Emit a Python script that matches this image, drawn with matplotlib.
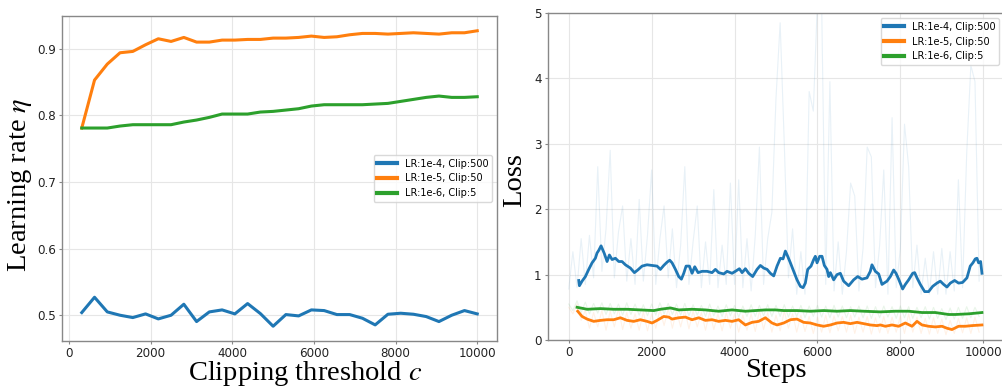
import numpy as np
import matplotlib
matplotlib.use("Agg")
import matplotlib.pyplot as plt

plt.rcParams['mathtext.fontset'] = 'stix'

# ---------------- data: left panel ----------------
clip_thresholds = np.linspace(10000 / 32, 10000, 32)
lr_labels = ["LR:1e-4, Clip:500", "LR:1e-5, Clip:50", "LR:1e-6, Clip:5"]
lr_blue = [0.504, 0.527, 0.505, 0.500, 0.4965, 0.502, 0.4945, 0.500, 0.5165, 0.4905,
           0.505, 0.508, 0.502, 0.5175, 0.5025, 0.4835, 0.501, 0.499, 0.508, 0.507,
           0.501, 0.501, 0.4955, 0.4855, 0.5015, 0.503, 0.5015, 0.498, 0.4905, 0.500,
           0.507, 0.502]
lr_orange = [0.781, 0.853, 0.877, 0.894, 0.896, 0.906, 0.915, 0.911, 0.917, 0.910,
             0.910, 0.913, 0.913, 0.914, 0.914, 0.916, 0.916, 0.917, 0.919, 0.917,
             0.918, 0.921, 0.923, 0.923, 0.922, 0.923, 0.924, 0.923, 0.922, 0.924,
             0.924, 0.927]
lr_green = [0.781, 0.781, 0.781, 0.784, 0.786, 0.786, 0.786, 0.786, 0.790, 0.793,
            0.797, 0.802, 0.802, 0.802, 0.805, 0.806, 0.808, 0.810, 0.814, 0.816,
            0.816, 0.816, 0.816, 0.817, 0.818, 0.821, 0.824, 0.827, 0.829, 0.827,
            0.827, 0.828]

# ---------------- data: right panel ----------------
raw_step_interval = 100
raw_blue = [0.78, 1.35, 0.80, 1.55, 0.85, 1.60, 0.95, 2.65, 1.05, 1.70,
            2.90, 0.95, 1.65, 2.05, 0.90, 1.55, 0.85, 2.15, 0.90, 1.60,
            2.60, 0.85, 1.55, 2.05, 0.95, 1.70, 0.80, 1.45, 2.65, 0.85,
            1.50, 2.05, 0.80, 1.50, 0.85, 2.30, 0.80, 1.45, 0.85, 2.40,
            0.85, 2.45, 0.80, 1.55, 0.75, 1.60, 2.95, 0.85, 1.55, 1.95,
            3.70, 4.85, 3.00, 0.95, 1.70, 0.70, 1.35, 0.70, 3.80, 3.50,
            5.20, 5.20, 0.85, 3.95, 0.75, 1.50, 0.70, 1.35, 2.40, 2.20,
            0.75, 1.40, 2.95, 2.80, 0.80, 1.45, 2.60, 0.70, 3.40, 0.80,
            1.40, 3.30, 2.65, 0.80, 1.45, 0.70, 1.25, 0.70, 1.35, 0.70,
            1.40, 0.70, 1.35, 0.75, 2.45, 0.80, 2.85, 4.20, 3.95, 0.90]
raw_orange = [0.50, 0.40, 0.55, 0.30, 0.45, 0.18, 0.42, 0.20, 0.45, 0.15,
              0.44, 0.20, 0.48, 0.16, 0.42, 0.18, 0.40, 0.15, 0.43, 0.14,
              0.40, 0.18, 0.47, 0.22, 0.48, 0.18, 0.45, 0.20, 0.46, 0.17,
              0.44, 0.20, 0.42, 0.15, 0.43, 0.16, 0.40, 0.14, 0.42, 0.18,
              0.40, 0.12, 0.38, 0.15, 0.40, 0.13, 0.45, 0.16, 0.42, 0.12,
              0.38, 0.14, 0.44, 0.18, 0.40, 0.12, 0.38, 0.13, 0.36, 0.10,
              0.35, 0.12, 0.38, 0.11, 0.37, 0.14, 0.36, 0.12, 0.38, 0.10,
              0.35, 0.12, 0.36, 0.09, 0.34, 0.11, 0.36, 0.10, 0.35, 0.12,
              0.37, 0.10, 0.40, 0.12, 0.35, 0.10, 0.33, 0.09, 0.34, 0.10,
              0.32, 0.08, 0.30, 0.10, 0.33, 0.11, 0.34, 0.10, 0.35, 0.12]
raw_green = [0.55, 0.45, 0.60, 0.42, 0.58, 0.40, 0.56, 0.41, 0.57, 0.39,
             0.56, 0.40, 0.55, 0.38, 0.57, 0.39, 0.55, 0.38, 0.54, 0.37,
             0.55, 0.38, 0.57, 0.40, 0.56, 0.39, 0.55, 0.38, 0.56, 0.37,
             0.54, 0.38, 0.53, 0.36, 0.55, 0.37, 0.52, 0.36, 0.54, 0.37,
             0.53, 0.35, 0.52, 0.36, 0.54, 0.36, 0.53, 0.37, 0.54, 0.36,
             0.53, 0.36, 0.54, 0.35, 0.52, 0.36, 0.53, 0.34, 0.52, 0.36,
             0.53, 0.35, 0.52, 0.34, 0.53, 0.35, 0.52, 0.34, 0.51, 0.35,
             0.52, 0.34, 0.52, 0.33, 0.51, 0.34, 0.52, 0.35, 0.51, 0.33,
             0.52, 0.34, 0.51, 0.33, 0.50, 0.34, 0.51, 0.32, 0.50, 0.33,
             0.48, 0.31, 0.49, 0.32, 0.50, 0.33, 0.51, 0.34, 0.50, 0.36]

smooth_blue_steps = [242, 258, 322, 402, 483, 563, 643, 683, 724, 780, 820, 860, 925, 981,
                     1046, 1126, 1206, 1286, 1367, 1487, 1584, 1664, 1769, 1889, 2010,
                     2131, 2211, 2292, 2372, 2436, 2493, 2574, 2654, 2718, 2775, 2831,
                     2911, 2975, 3040, 3120, 3216, 3337, 3457, 3538, 3618, 3739, 3819,
                     3940, 4020, 4117, 4181, 4262, 4342, 4438, 4543, 4623, 4703, 4784,
                     4864, 4945, 5025, 5106, 5170, 5226, 5282, 5347, 5427, 5507, 5588,
                     5652, 5708, 5765, 5845, 5909, 5949, 5990, 6054, 6110, 6166, 6230,
                     6271, 6311, 6391, 6472, 6552, 6632, 6753, 6873, 6970, 7074, 7195,
                     7275, 7315, 7396, 7477, 7557, 7678, 7758, 7838, 7895, 7959, 8055,
                     8120, 8200, 8297, 8345, 8401, 8481, 8586, 8682, 8779, 8883, 8963,
                     9044, 9124, 9205, 9309, 9405, 9501, 9606, 9686, 9750, 9807, 9847,
                     9887, 9936, 9968]
smooth_blue = [0.91, 0.83, 0.90, 0.97, 1.08, 1.18, 1.25, 1.33, 1.37, 1.44, 1.38, 1.32,
               1.20, 1.30, 1.23, 1.25, 1.20, 1.20, 1.15, 1.10, 1.03, 1.07, 1.13, 1.15,
               1.14, 1.13, 1.08, 1.14, 1.19, 1.22, 1.18, 1.08, 0.97, 0.93, 1.02, 1.13,
               1.13, 1.02, 1.12, 1.03, 1.05, 1.05, 1.03, 1.08, 1.03, 1.01, 1.05, 1.02,
               1.05, 1.09, 1.03, 1.09, 1.02, 0.97, 1.08, 1.14, 1.10, 1.08, 1.02, 0.98,
               1.13, 1.25, 1.24, 1.36, 1.28, 1.18, 1.05, 0.92, 0.82, 0.80, 0.87, 1.08,
               1.13, 1.23, 1.28, 1.18, 1.28, 1.28, 1.14, 1.08, 0.97, 1.03, 0.92, 1.00,
               1.02, 0.90, 0.83, 0.92, 0.97, 0.93, 0.95, 1.05, 1.15, 1.05, 1.01, 0.85,
               0.90, 0.97, 1.07, 1.02, 0.93, 0.78, 0.85, 0.92, 1.02, 1.03, 0.95, 0.85,
               0.74, 0.74, 0.82, 0.87, 0.90, 0.85, 0.81, 0.87, 0.91, 0.87, 0.88, 0.95,
               1.13, 1.18, 1.24, 1.25, 1.18, 1.20, 1.02]

smooth_orange_steps = [217, 322, 442, 603, 764, 925, 1085, 1246, 1407, 1568, 1728, 1889,
                       2010, 2131, 2292, 2412, 2493, 2653, 2814, 2975, 3136, 3297, 3457,
                       3618, 3779, 3940, 4100, 4261, 4422, 4582, 4743, 4904, 5025, 5186,
                       5347, 5507, 5668, 5829, 5990, 6150, 6311, 6472, 6632, 6793, 6954,
                       7115, 7275, 7436, 7517, 7637, 7798, 7959, 8120, 8281, 8401, 8522,
                       8682, 8843, 9004, 9124, 9245, 9405, 9566, 9727, 9968]
smooth_orange = [0.44, 0.36, 0.32, 0.285, 0.30, 0.31, 0.31, 0.34, 0.30, 0.285, 0.31,
                 0.285, 0.26, 0.30, 0.36, 0.35, 0.32, 0.34, 0.35, 0.31, 0.34, 0.30,
                 0.31, 0.285, 0.30, 0.285, 0.31, 0.23, 0.27, 0.285, 0.34, 0.26, 0.23,
                 0.26, 0.31, 0.32, 0.27, 0.26, 0.23, 0.21, 0.23, 0.26, 0.27, 0.25,
                 0.27, 0.25, 0.23, 0.22, 0.23, 0.21, 0.23, 0.21, 0.26, 0.21, 0.285,
                 0.23, 0.21, 0.20, 0.21, 0.18, 0.16, 0.21, 0.21, 0.22, 0.23]

smooth_green_steps = [201, 443, 765, 1086, 1408, 1729, 2051, 2211, 2453, 2653, 2975,
                      3297, 3618, 3940, 4261, 4502, 4743, 4984, 5186, 5507, 5829, 6150,
                      6472, 6793, 7115, 7517, 7879, 8200, 8522, 8843, 9165, 9325, 9647,
                      9968]
smooth_green = [0.50, 0.47, 0.48, 0.47, 0.47, 0.46, 0.45, 0.47, 0.49, 0.46, 0.47, 0.46,
                0.44, 0.46, 0.44, 0.45, 0.46, 0.46, 0.45, 0.45, 0.44, 0.45, 0.44, 0.45,
                0.44, 0.43, 0.44, 0.44, 0.42, 0.42, 0.39, 0.39, 0.40, 0.42]

colors = ["#1f77b4", "#ff7f0e", "#2ca02c"]
spine_color = "#888888"
grid_color = "#e6e6e6"
label_font = dict(family="Liberation Serif", size=20.5)
tick_size = 8.6

fig = plt.figure(figsize=(10.03, 3.87), dpi=100)
ax1 = fig.add_axes([62 / 1003, 46 / 387, 435 / 1003, 325 / 387])
ax2 = fig.add_axes([548 / 1003, 47 / 387, 456 / 1003, 327 / 387])

def style(ax):
    ax.grid(True, color=grid_color, linewidth=0.8)
    ax.set_axisbelow(True)
    for s in ax.spines.values():
        s.set_color(spine_color)
        s.set_linewidth(1.0)
    ax.tick_params(colors=spine_color, labelcolor="#222222", labelsize=tick_size,
                   length=2.5, width=0.8, pad=2.0)

# left panel
for vals, c, lab in zip([lr_blue, lr_orange, lr_green], colors, lr_labels):
    ax1.plot(clip_thresholds, vals, color=c, lw=2.2, label=lab)
style(ax1)
ax1.set_xticks([0, 2000, 4000, 6000, 8000, 10000])
ax1.set_yticks([0.5, 0.6, 0.7, 0.8, 0.9])
ax1.set_xlabel("Clipping threshold $c$", fontdict=label_font)
ax1.set_ylabel("Learning rate $\\eta$", fontdict=label_font)
ax1.xaxis.set_label_coords(0.559, -0.055)
ax1.yaxis.set_label_coords(-0.064, 0.48)
leg1 = ax1.legend(loc="center right", fontsize=7, frameon=True, handlelength=2.0)
leg1.get_frame().set_edgecolor("#d0d0d0")
for l in leg1.get_lines():
    l.set_linewidth(3)

# right panel
raw_steps = np.arange(len(raw_blue)) * raw_step_interval
for raw, c in zip([raw_blue, raw_orange, raw_green], colors):
    ax2.plot(raw_steps, raw, color=c, lw=0.8, alpha=0.1)
for st, vals, c, lab in zip([smooth_blue_steps, smooth_orange_steps, smooth_green_steps],
                            [smooth_blue, smooth_orange, smooth_green], colors, lr_labels):
    ax2.plot(st, vals, color=c, lw=2.0, label=lab)
style(ax2)
ax2.set_xlim(-500, 10500)
ax2.set_ylim(0, 5)
ax2.set_xticks([0, 2000, 4000, 6000, 8000, 10000])
ax2.set_yticks([0, 1, 2, 3, 4, 5])
ax2.set_xlabel("Steps", fontdict=label_font)
ax2.set_ylabel("Loss", fontdict=label_font)
ax2.xaxis.set_label_coords(0.5, -0.055)
ax2.yaxis.set_label_coords(-0.046, 0.49)
leg2 = ax2.legend(loc="upper right", fontsize=7, frameon=True, handlelength=2.0)
leg2.get_frame().set_edgecolor("#d0d0d0")
for l in leg2.get_lines():
    l.set_linewidth(3)

fig.savefig("out.png", dpi=100)
